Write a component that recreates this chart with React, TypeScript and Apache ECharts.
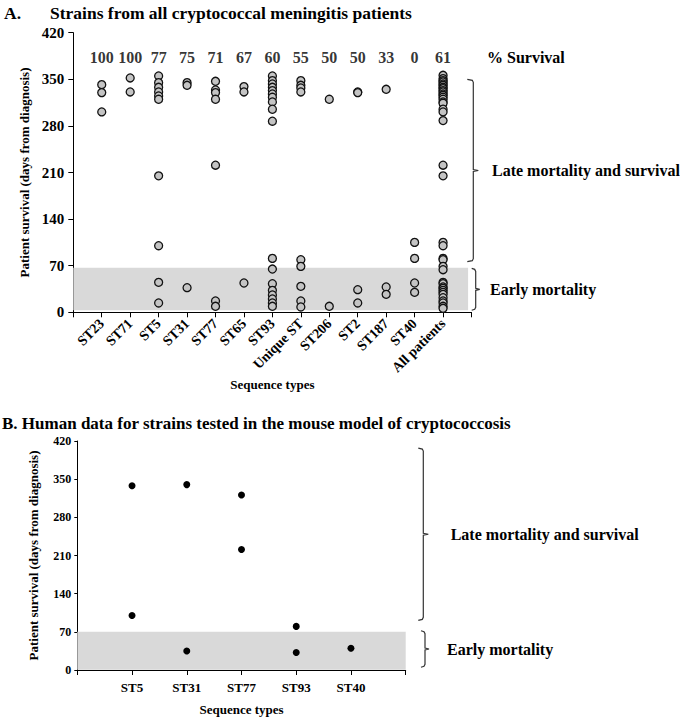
import React, { useEffect, useRef } from "react";
import * as echarts from "echarts";

// ---------- Panel A data ----------
const categoriesA = ["ST23", "ST71", "ST5", "ST31", "ST77", "ST65", "ST93", "Unique ST", "ST206", "ST2", "ST187", "ST40", "All patients"];
const survivalPct = [100, 100, 77, 75, 71, 67, 60, 55, 50, 50, 33, 0, 61];
const st23 = [342, 330, 301];
const st71 = [352, 331];
const st5 = [355, 345, 338, 331, 325, 320, 205, 100, 45, 14];
const st31 = [345, 341, 37];
const st77 = [347, 334, 330, 320, 221, 17, 9];
const st65 = [339, 331, 44];
const st93 = [355, 348, 343, 338, 333, 328, 323, 316, 305, 287, 81, 65, 43, 33, 26, 20, 14, 9];
const uniqueST = [348, 341, 337, 331, 79, 69, 39, 17, 8];
const st206 = [320, 9];
const st2 = [331, 330, 34, 14];
const st187 = [335, 38, 27];
const st40 = [105, 81, 44, 30];
const allPatients = [356, 351, 348, 346, 343, 341, 338, 336, 333, 331, 328, 326, 323, 320, 316, 314, 305, 301, 288, 221, 205, 105, 100, 81, 79, 69, 64, 45, 43, 38, 36, 33, 30, 27, 22, 17, 14, 9, 6];
const valuesA = [st23, st71, st5, st31, st77, st65, st93, uniqueST, st206, st2, st187, st40, allPatients];

// ---------- Panel B data ----------
const categoriesB = ["ST5", "ST31", "ST77", "ST93", "ST40"];
const bST5 = [338, 100];
const bST31 = [340, 35];
const bST77 = [321, 221];
const bST93 = [80, 32];
const bST40 = [40];
const valuesB = [bST5, bST31, bST77, bST93, bST40];

const yTicks = [0, 70, 140, 210, 280, 350, 420];
const earlyBandA = [3, 67];
const earlyBandB = [0.5, 70];
const lateBracketA = [350, 76];
const earlyBracketA = [66, 3];
const lateBracketB = [407, 91];
const earlyBracketB = [72, 5];

const FONT = "'Liberation Serif', 'Times New Roman', serif";

export default function App() {
  const ref = useRef<HTMLDivElement>(null);
  useEffect(() => {
    if (!ref.current) return;
    const chart = echarts.init(ref.current, null, { renderer: "svg" });
    const gridA = { left: 73.3, top: 32.7, width: 398.2, height: 279.6 };
    const gridB = { left: 77.3, top: 441, width: 328.4, height: 229 };

    const axisLine = { show: true, lineStyle: { color: "#000", width: 1 } };
    const mkX = (gridIndex: number, cats: string[], max: number, extra: any) => ({
      type: "value",
      gridIndex,
      min: 0,
      max,
      interval: 1,
      axisLine,
      axisTick: { show: true, inside: false, length: 5, lineStyle: { color: "#000" } },
      splitLine: { show: false },
      nameLocation: "middle",
      nameTextStyle: { fontFamily: FONT, fontWeight: "bold", fontSize: 13, color: "#000" },
      ...extra,
      axisLabel: {
        fontFamily: FONT,
        fontWeight: "bold",
        color: "#000",
        showMinLabel: true,
        showMaxLabel: true,
        formatter: (v: number) => (v >= 1 && v <= cats.length ? cats[v - 1] : ""),
        ...extra.axisLabel,
      },
    });
    const mkY = (gridIndex: number, extra: any) => ({
      type: "value",
      gridIndex,
      min: yTicks[0],
      max: yTicks[yTicks.length - 1],
      interval: 70,
      axisLine,
      axisTick: { show: true, inside: false, length: 5, lineStyle: { color: "#000" } },
      splitLine: { show: false },
      name: "Patient survival (days from diagnosis)",
      nameLocation: "middle",
      nameTextStyle: { fontFamily: FONT, fontWeight: "bold", fontSize: 13, color: "#000" },
      ...extra,
      axisLabel: { fontFamily: FONT, fontWeight: "bold", color: "#000", ...extra.axisLabel },
    });

    const pointsA: number[][] = [];
    valuesA.forEach((arr, i) => arr.forEach((v) => pointsA.push([i + 1, v])));
    const pointsB: number[][] = [];
    valuesB.forEach((arr, i) => arr.forEach((v) => pointsB.push([i + 1, v])));

    chart.setOption({
      animation: false,
      grid: [gridA, gridB],
      xAxis: [
        mkX(0, categoriesA, 14, { name: "Sequence types", nameGap: 64, axisLabel: { rotate: 45, fontSize: 14, margin: 9 } }),
        mkX(1, categoriesB, 6, { name: "Sequence types", nameGap: 33, axisLabel: { fontSize: 13, margin: 11 } }),
      ],
      yAxis: [
        mkY(0, { nameGap: 40, axisLabel: { fontSize: 15, margin: 9 } }),
        mkY(1, { nameGap: 37, axisLabel: { fontSize: 12, margin: 6 }, axisTick: { show: true, length: 3, lineStyle: { color: "#000" } } }),
      ],
      series: [
        {
          type: "scatter",
          xAxisIndex: 0,
          yAxisIndex: 0,
          data: survivalPct.map((p, i) => [i + 1, 383, p]),
          symbolSize: 0,
          clip: false,
          silent: true,
          label: {
            show: true,
            position: "inside",
            formatter: (p: any) => String(p.value[2]),
            fontFamily: FONT,
            fontWeight: "bold",
            fontSize: 16,
            color: "#000",
          },
          markArea: {
            silent: true,
            itemStyle: { color: "#d9d9d9" },
            data: [[{ coord: [0, earlyBandA[0]] }, { coord: [13.88, earlyBandA[1]] }]],
          },
        },
        {
          type: "scatter",
          xAxisIndex: 0,
          yAxisIndex: 0,
          data: pointsA,
          symbol: "circle",
          symbolSize: 8,
          z: 5,
          clip: false,
          itemStyle: { color: "#c4c4c4", borderColor: "#111", borderWidth: 1.3, opacity: 1 },
        },
        {
          type: "scatter",
          xAxisIndex: 1,
          yAxisIndex: 1,
          data: pointsB,
          symbol: "circle",
          symbolSize: 7,
          z: 5,
          clip: false,
          itemStyle: { color: "#000", opacity: 1 },
          markArea: {
            silent: true,
            itemStyle: { color: "#d9d9d9" },
            data: [[{ coord: [0, earlyBandB[0]] }, { coord: [6.18, earlyBandB[1]] }]],
          },
        },
      ],
    });

    const py = (g: number, v: number) => (chart.convertToPixel({ gridIndex: g } as any, [0, v]) as number[])[1];
    const bracket = (g: number, x: number, range: number[], hook: number, tick: number) => {
      const t = py(g, range[0]);
      const b = py(g, range[1]);
      const m = (t + b) / 2;
      return {
        type: "polyline",
        silent: true,
        shape: {
          points: [
            [x - hook, t],
            [x - 1, t + 1],
            [x, t + 3],
            [x, m - 1],
            [x + tick, m],
            [x, m + 1],
            [x, b - 3],
            [x - 1, b - 1],
            [x - hook, b],
          ],
        },
        style: { stroke: "#333", lineWidth: 1.2, fill: null },
      };
    };
    const txt = (x: number, y: number, text: string, size = 16, align = "left") => ({
      type: "text",
      x,
      y,
      silent: true,
      style: { text, fontFamily: FONT, fontWeight: "bold", fontSize: size, fill: "#000", align, verticalAlign: "middle" },
    });

    const aLateMid = (py(0, lateBracketA[0]) + py(0, lateBracketA[1])) / 2;
    const aEarlyMid = (py(0, earlyBracketA[0]) + py(0, earlyBracketA[1])) / 2;
    const bLateMid = (py(1, lateBracketB[0]) + py(1, lateBracketB[1])) / 2;
    const bEarlyMid = (py(1, earlyBracketB[0]) + py(1, earlyBracketB[1])) / 2;

    chart.setOption({
      graphic: [
        txt(4, 13, "A.", 17.5),
        txt(50, 13, "Strains from all cryptococcal meningitis patients", 17.5),
        txt(487, py(0, 383), "% Survival", 16),
        bracket(0, 473.3, lateBracketA, 6, 5),
        bracket(0, 475.7, earlyBracketA, 4, 4),
        txt(492, aLateMid, "Late mortality and survival", 16),
        txt(490, aEarlyMid, "Early mortality", 16),
        txt(2, 423.5, "B. Human data for strains tested in the mouse model of cryptococcosis", 17),
        bracket(1, 423.3, lateBracketB, 5, 5),
        bracket(1, 425, earlyBracketB, 4, 4),
        txt(450.7, bLateMid, "Late mortality and survival", 16),
        txt(447, bEarlyMid, "Early mortality", 16),
      ],
    });

    return () => chart.dispose();
  }, []);

  return <div ref={ref} style={{ position: "absolute", left: 0, top: 0, width: 680, height: 719 }} />;
}
